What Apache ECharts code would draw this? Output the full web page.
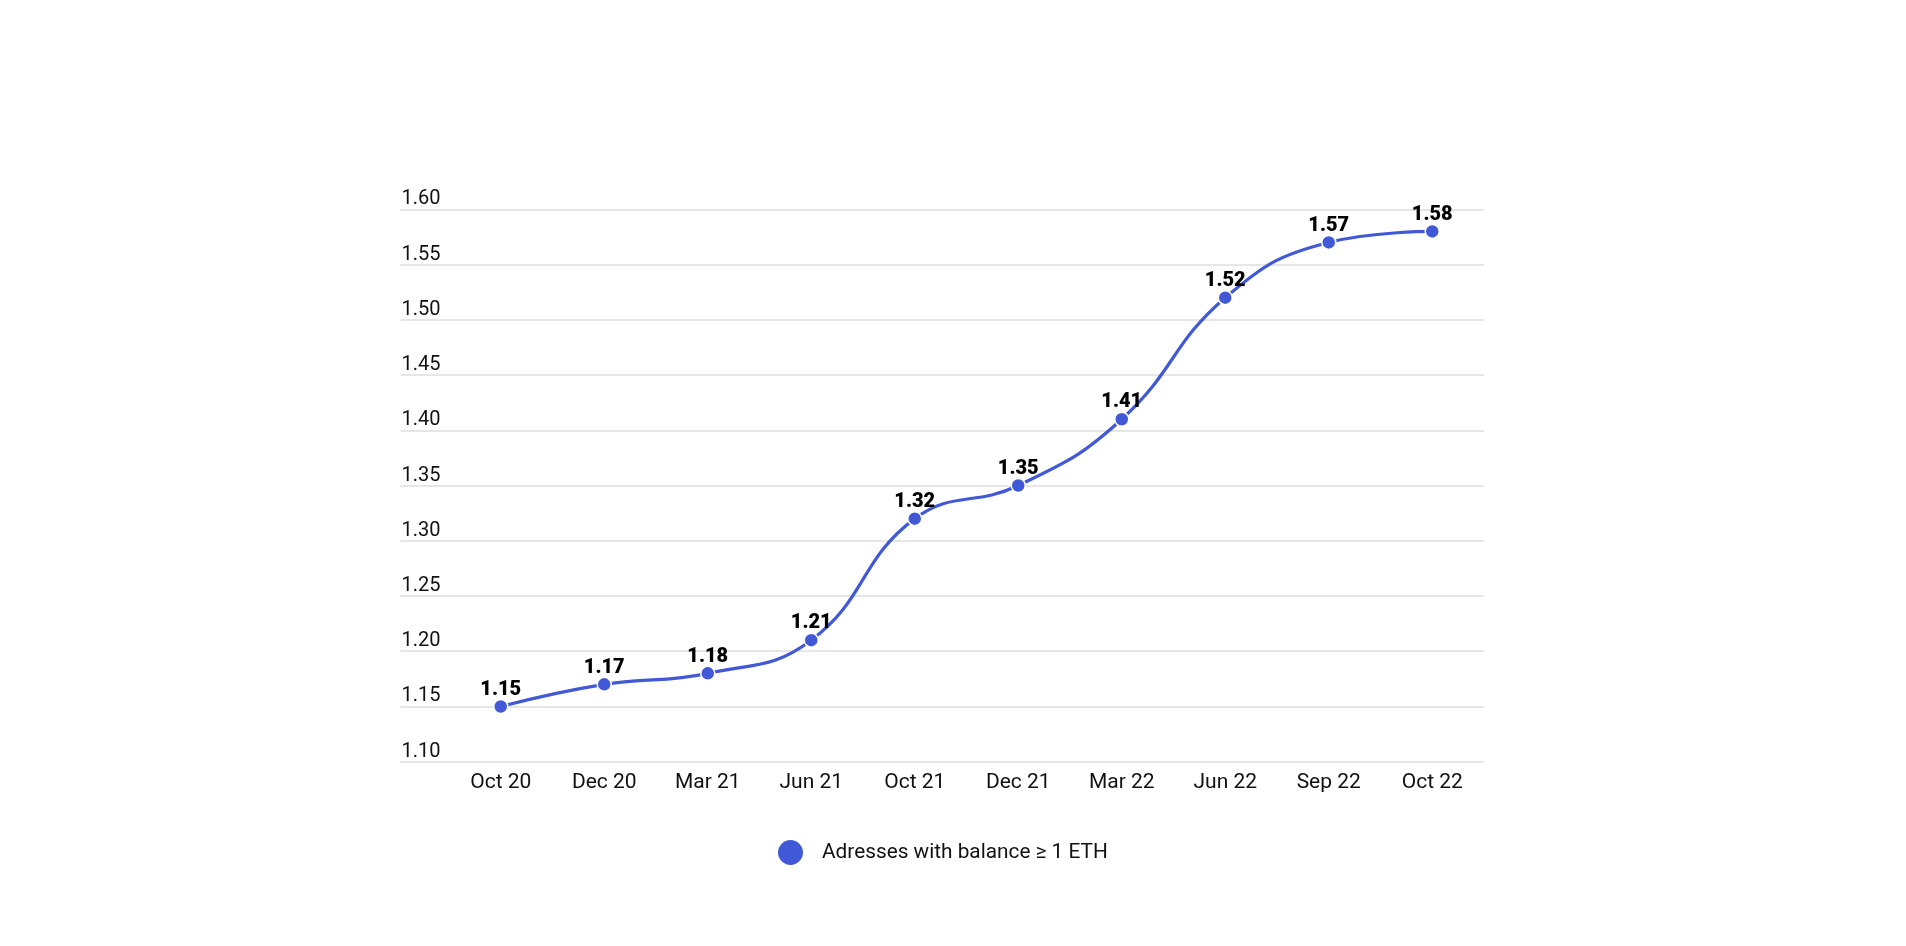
<!DOCTYPE html>
<html>
<head>
<meta charset="utf-8">
<style>
  html, body { margin: 0; padding: 0; background: #ffffff; }
  #chart { width: 1906px; height: 946px; }
</style>
<script src="https://cdn.jsdelivr.net/npm/echarts@6/dist/echarts.min.js"></script>
</head>
<body>
<div id="chart"></div>
<script>
const categories = ['Oct 20', 'Dec 20', 'Mar 21', 'Jun 21', 'Oct 21', 'Dec 21', 'Mar 22', 'Jun 22', 'Sep 22', 'Oct 22'];
const addresses = [1.15, 1.17, 1.18, 1.21, 1.32, 1.35, 1.41, 1.52, 1.57, 1.58];
const seriesName = 'Adresses with balance \u2265 1 ETH';
const yMin = 1.10, yMax = 1.60, yStep = 0.05;

const FONT = 'Roboto, "Noto Sans", sans-serif';
const BLUE = '#4159d6';

const chart = echarts.init(document.getElementById('chart'), null, { renderer: 'canvas' });
chart.setOption({
  backgroundColor: '#ffffff',
  animation: false,
  textStyle: { fontFamily: FONT },
  grid: [
    { left: 400.5, right: 422, top: 209.3, bottom: 184.3 },
    { left: 449, right: 422, top: 209.3, bottom: 184.3 }
  ],
  xAxis: [
    { gridIndex: 0, type: 'value', show: false, min: 0, max: 1 },
    {
      gridIndex: 1, type: 'category', data: categories, boundaryGap: true,
      axisLine: { show: false }, axisTick: { show: false },
      axisLabel: { color: '#111', fontSize: 21, margin: 11, fontFamily: FONT }
    }
  ],
  yAxis: [
    {
      gridIndex: 0, type: 'value', min: yMin, max: yMax, interval: yStep,
      axisLine: { show: false }, axisTick: { show: false },
      splitLine: { show: true, lineStyle: { color: '#e6e6e6', width: 2 } },
      axisLabel: {
        inside: true, align: 'left', verticalAlign: 'bottom', margin: 1,
        color: '#111', fontSize: 20, fontFamily: FONT,
        formatter: v => v.toFixed(2)
      }
    },
    { gridIndex: 1, type: 'value', min: yMin, max: yMax, interval: yStep, show: false, splitLine: { show: false } }
  ],
  legend: {
    data: [seriesName],
    left: 771, top: 833,
    icon: 'circle', itemWidth: 27, itemHeight: 27,
    textStyle: { color: '#111', fontSize: 20.8, fontFamily: FONT, padding: [0, 0, 0, 13] }
  },
  series: [{
    name: seriesName,
    type: 'line',
    xAxisIndex: 1, yAxisIndex: 1,
    data: addresses,
    smooth: 0.45,
    symbol: 'circle', symbolSize: 14,
    lineStyle: { color: BLUE, width: 3.2 },
    itemStyle: { color: BLUE, borderColor: '#ffffff', borderWidth: 1.5 },
    label: {
      show: true, position: 'top', distance: -1,
      color: '#000', fontSize: 20, fontWeight: 900, fontFamily: FONT,
      formatter: p => p.value.toFixed(2)
    }
  }]
});
</script>
</body>
</html>
